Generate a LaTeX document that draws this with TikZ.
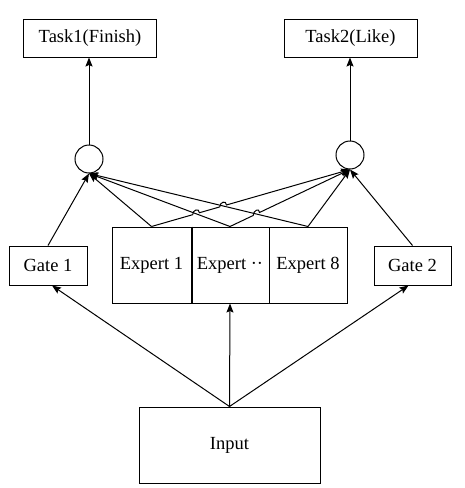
\documentclass[tikz,border=0pt]{standalone}
\usepackage{fontspec}
\setmainfont{Liberation Serif}
\usetikzlibrary{arrows.meta,calc,intersections}
\begin{document}
\begin{tikzpicture}[x=1pt,y=-1pt,
  font=\fontsize{18.5}{22}\selectfont,
  every path/.style={line width=1pt},
  box/.style={draw,line width=1pt,inner sep=0pt,align=center},
  sumnode/.style={draw,circle,line width=1pt,minimum size=28pt,inner sep=0pt},
  arr/.style={-{Stealth[length=9pt,width=7pt,inset=1.5pt]},line width=1pt}]
\useasboundingbox (0,0) rectangle (465,488);
% boxes
\node[box,minimum width=133pt,minimum height=38pt] (t1) at (90,38) {Task1(Finish)};
\node[box,minimum width=133pt,minimum height=38pt] (t2) at (350.5,38) {Task2(Like)};
\node[sumnode] (c1) at (89,159) {};
\node[sumnode] (c2) at (350,155) {};
\node[box,minimum width=78pt,minimum height=39pt] (g1) at (48,265.5) {Gate 1};
\node[box,minimum width=77pt,minimum height=39pt] (g2) at (412.5,265.5) {Gate 2};
\node[box,minimum width=79pt,minimum height=76pt] (e1) at (151.5,265) {Expert 1};
\node[box,minimum width=78pt,minimum height=76pt] (e2) at (230,265) {Expert ··};
\node[box,minimum width=78pt,minimum height=76pt] (e3) at (308,265) {Expert 8};
\node[box,minimum width=181pt,minimum height=76pt] (inp) at (229.5,445) {Input};
\draw[line width=2pt] (e1.north east) -- (e1.south east);
% outputs
\draw[arr] (c1.north) -- (t1.south -| c1.north);
\draw[arr] (c2.north) -- (t2.south -| c2.north);
% input to gates and experts
\draw[arr] (inp.north) -- ([xshift=4pt]g1.south);
\draw[arr] (inp.north) -- (e2.south);
\draw[arr] (inp.north) -- ([xshift=-4pt]g2.south);
% gates to sums
\draw[arr] (g1.north) -- (c1.south);
\draw[arr] (g2.north) -- (c2.south);
% experts to left sum
\draw[arr] (e1.north) -- (c1.south);
\draw[arr, name path=p21] (e2.north) -- (c1.south);
\draw[arr, name path=p31] (e3.north) -- (c1.south);
% experts to right sum (with line jumps)
\path[name path=p12] (e1.north) -- (c2.south);
\path[name path=p22] (e2.north) -- (c2.south);
\path[name intersections={of=p12 and p21,by=x1}];
\path[name intersections={of=p12 and p31,by=x2}];
\path[name intersections={of=p22 and p31,by=x3}];
\coordinate (x1a) at ($(x1)!3.5pt!(e1.north)$);
\coordinate (x1b) at ($(x1)!3.5pt!(c2.south)$);
\coordinate (x2a) at ($(x2)!3.5pt!(e1.north)$);
\coordinate (x2b) at ($(x2)!3.5pt!(c2.south)$);
\coordinate (x3a) at ($(x3)!3.5pt!(e2.north)$);
\coordinate (x3b) at ($(x3)!3.5pt!(c2.south)$);
\draw[arr] (e1.north) -- (x1a) .. controls +(0,-5) and +(0,-5) .. (x1b)
  -- (x2a) .. controls +(0,-5) and +(0,-5) .. (x2b) -- (c2.south);
\draw[arr] (e2.north) -- (x3a) .. controls +(0,-5) and +(0,-5) .. (x3b) -- (c2.south);
\draw[arr] (e3.north) -- (c2.south);
\end{tikzpicture}
\end{document}
